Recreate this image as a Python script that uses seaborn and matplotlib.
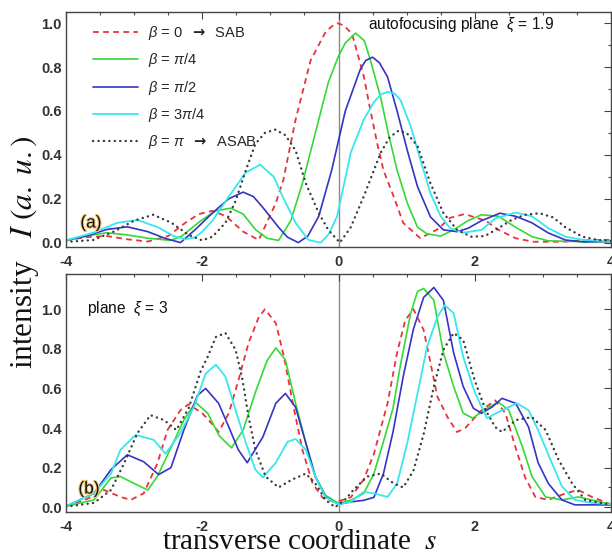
import matplotlib
matplotlib.use("Agg")
import matplotlib.pyplot as plt
import matplotlib.patheffects as pe
from matplotlib.ticker import MultipleLocator, FormatStrFormatter
import seaborn as sns

# ---------------- data: top panel (autofocusing plane xi = 1.9) ----------------
s_top_b0 = [-4.0, -3.7, -3.4, -3.1, -2.8, -2.5, -2.25, -2.05, -1.85, -1.65, -1.4, -1.17, -0.92, -0.81, -0.63,
            -0.41, -0.19, -0.1, -0.02, 0.08, 0.2, 0.37, 0.47, 0.57, 0.66, 0.81, 0.95, 1.2, 1.45, 1.64, 1.85,
            2.16, 2.35, 2.6, 2.85, 3.3, 3.7, 4.0]
I_top_b0 = [0.01, 0.025, 0.03, 0.015, 0.005, 0.03, 0.09, 0.13, 0.145, 0.12, 0.05, 0.012, 0.18, 0.285, 0.56,
            0.83, 0.96, 0.985, 1.0, 0.99, 0.95, 0.76, 0.6, 0.45, 0.33, 0.21, 0.09, 0.02, 0.06, 0.113, 0.13,
            0.10, 0.058, 0.02, 0.004, 0.004, 0.012, 0.012]

s_top_b1 = [-4.0, -3.7, -3.4, -3.1, -2.8, -2.46, -2.3, -2.02, -1.8, -1.58, -1.4, -1.22, -1.05, -0.88, -0.7,
            -0.53, -0.29, -0.15, 0.0, 0.1, 0.25, 0.38, 0.47, 0.62, 0.73, 0.86, 1.01, 1.16, 1.3, 1.5, 1.7, 1.9,
            2.1, 2.35, 2.6, 2.84, 3.08, 3.5, 4.0]
I_top_b1 = [0.01, 0.03, 0.045, 0.035, 0.02, 0.01, 0.03, 0.1, 0.145, 0.157, 0.13, 0.06, 0.02, 0.01, 0.1,
            0.27, 0.56, 0.73, 0.85, 0.91, 0.955, 0.92, 0.83, 0.66, 0.5, 0.33, 0.18, 0.07, 0.04, 0.03, 0.06, 0.1,
            0.127, 0.12, 0.07, 0.027, 0.008, 0.005, 0.005]

s_top_b2 = [-4.0, -3.7, -3.4, -3.1, -2.8, -2.55, -2.32, -2.1, -1.85, -1.61, -1.4, -1.25, -1.11, -0.88, -0.75,
            -0.59, -0.45, -0.29, -0.1, 0.1, 0.32, 0.4, 0.5, 0.6, 0.72, 0.86, 1.01, 1.16, 1.35, 1.54, 1.74, 1.9,
            2.1, 2.37, 2.6, 2.84, 3.08, 3.33, 3.6, 4.0]
I_top_b2 = [0.01, 0.03, 0.06, 0.072, 0.05, 0.02, 0.0, 0.06, 0.135, 0.2, 0.23, 0.21, 0.16, 0.07, 0.025,
            0.0, 0.03, 0.12, 0.33, 0.6, 0.79, 0.83, 0.845, 0.82, 0.755, 0.6, 0.42, 0.255, 0.117, 0.058, 0.05, 0.065,
            0.1, 0.134, 0.12, 0.09, 0.044, 0.012, 0.003, 0.005]

s_top_b3 = [-4.0, -3.6, -3.25, -2.95, -2.65, -2.42, -2.25, -2.1, -2.0, -1.85, -1.61, -1.36, -1.15, -0.95, -0.82,
            -0.63, -0.44, -0.26, -0.14, -0.02, 0.18, 0.37, 0.52, 0.62, 0.72, 0.82, 0.91, 1.06, 1.2, 1.35, 1.5,
            1.64, 1.83, 2.1, 2.3, 2.6, 2.84, 3.08, 3.33, 3.6, 4.0]
I_top_b3 = [0.01, 0.045, 0.09, 0.103, 0.07, 0.03, 0.015, 0.025, 0.05, 0.1, 0.21, 0.32, 0.355, 0.3, 0.21,
            0.09, 0.012, 0.0, 0.04, 0.12, 0.41, 0.56, 0.64, 0.675, 0.687, 0.68, 0.65, 0.53, 0.38, 0.225, 0.12,
            0.065, 0.045, 0.058, 0.11, 0.137, 0.12, 0.066, 0.027, 0.012, 0.005]

s_top_b4 = [-4.0, -3.6, -3.3, -3.0, -2.72, -2.45, -2.2, -2.0, -1.85, -1.66, -1.51, -1.36, -1.22, -1.08, -0.93,
            -0.78, -0.63, -0.48, -0.29, -0.15, 0.02, 0.18, 0.37, 0.62, 0.75, 0.88, 1.0, 1.16, 1.35, 1.54, 1.74,
            1.95, 2.15, 2.35, 2.55, 2.74, 2.95, 3.15, 3.33, 3.58, 3.81, 4.0]
I_top_b4 = [0.003, 0.012, 0.05, 0.1, 0.127, 0.09, 0.035, 0.01, 0.027, 0.09, 0.19, 0.33, 0.45, 0.5, 0.515,
            0.49, 0.42, 0.27, 0.135, 0.058, 0.0, 0.07, 0.21, 0.41, 0.48, 0.51, 0.5, 0.44, 0.27, 0.135, 0.058,
            0.027, 0.03, 0.066, 0.105, 0.127, 0.134, 0.115, 0.07, 0.027, 0.012, 0.008]

# ---------------- data: bottom panel (plane xi = 3) ----------------
s_bot_b0 = [-4.0, -3.7, -3.44, -3.2, -3.05, -2.86, -2.66, -2.51, -2.32, -2.2, -2.0, -1.88, -1.76, -1.61, -1.47,
            -1.32, -1.17, -1.08, -0.92, -0.8, -0.67, -0.53, -0.38, -0.23, -0.05, 0.18, 0.37, 0.52, 0.72, 0.86,
            0.98, 1.1, 1.25, 1.35, 1.45, 1.6, 1.74, 1.86, 2.1, 2.3, 2.45, 2.6, 2.74, 2.89, 3.08, 3.33, 3.52,
            3.72, 4.0]
I_bot_b0 = [0.005, 0.04, 0.087, 0.052, 0.037, 0.07, 0.22, 0.39, 0.49, 0.52, 0.475, 0.43, 0.38, 0.475, 0.64,
            0.83, 0.96, 1.0, 0.93, 0.76, 0.525, 0.29, 0.12, 0.047, 0.025, 0.05, 0.14, 0.27, 0.525, 0.78,
            0.945, 1.0, 0.895, 0.73, 0.56, 0.455, 0.38, 0.4, 0.49, 0.54, 0.475, 0.3, 0.15, 0.052, 0.037, 0.07,
            0.087, 0.052, 0.015]

s_bot_b1 = [-4.0, -3.59, -3.34, -3.2, -3.0, -2.8, -2.66, -2.46, -2.27, -2.1, -1.92, -1.75, -1.57, -1.4, -1.2,
            -1.05, -0.92, -0.78, -0.63, -0.48, -0.34, -0.19, 0.0, 0.18, 0.37, 0.52, 0.65, 0.8, 0.91, 1.06, 1.16,
            1.25, 1.4, 1.54, 1.69, 1.83, 1.97, 2.2, 2.35, 2.5, 2.7, 2.84, 3.04, 3.28, 3.52, 4.0]
I_bot_b1 = [0.005, 0.037, 0.148, 0.155, 0.12, 0.087, 0.155, 0.3, 0.44, 0.53, 0.475, 0.36, 0.3, 0.39, 0.6,
            0.74, 0.805, 0.745, 0.525, 0.325, 0.155, 0.06, 0.02, 0.035, 0.07, 0.17, 0.32, 0.5, 0.72, 0.98, 1.09,
            1.105, 1.045, 0.78, 0.61, 0.475, 0.45, 0.505, 0.53, 0.49, 0.305, 0.155, 0.052, 0.037, 0.052, 0.015]

s_bot_b2 = [-4.0, -3.59, -3.34, -3.1, -2.86, -2.64, -2.46, -2.27, -2.07, -1.95, -1.76, -1.61, -1.47, -1.34,
            -1.11, -0.92, -0.78, -0.63, -0.48, -0.34, -0.19, 0.0, 0.18, 0.37, 0.52, 0.66, 0.8, 0.95, 1.1, 1.25,
            1.4, 1.54, 1.69, 1.83, 1.98, 2.1, 2.25, 2.4, 2.6, 2.79, 2.93, 3.08, 3.28, 3.47, 4.0]
I_bot_b2 = [0.005, 0.07, 0.19, 0.265, 0.23, 0.165, 0.2, 0.39, 0.565, 0.6, 0.525, 0.405, 0.29, 0.225,
            0.355, 0.525, 0.575, 0.505, 0.325, 0.155, 0.052, 0.015, 0.027, 0.035, 0.05, 0.17, 0.38, 0.66, 0.9, 1.06,
            1.11, 1.045, 0.78, 0.61, 0.5, 0.475, 0.505, 0.55, 0.525, 0.405, 0.225, 0.12, 0.037, 0.012, 0.012]

s_bot_b3 = [-4.0, -3.59, -3.34, -3.2, -2.98, -2.71, -2.54, -2.32, -2.12, -1.95, -1.8, -1.66, -1.51, -1.36, -1.22,
            -1.11, -0.92, -0.75, -0.63, -0.48, -0.34, -0.19, 0.0, 0.18, 0.37, 0.52, 0.72, 0.86, 1.01, 1.16, 1.3,
            1.45, 1.56, 1.69, 1.83, 2.0, 2.18, 2.4, 2.62, 2.79, 2.93, 3.13, 3.28, 3.47, 3.72, 4.0]
I_bot_b3 = [0.005, 0.07, 0.17, 0.29, 0.365, 0.34, 0.27, 0.375, 0.51, 0.675, 0.72, 0.66, 0.49, 0.325, 0.19,
            0.15, 0.225, 0.33, 0.345, 0.29, 0.155, 0.05, 0.015, 0.027, 0.078, 0.07, 0.052, 0.12, 0.325, 0.575, 0.81,
            0.96, 1.02, 0.98, 0.76, 0.58, 0.45, 0.49, 0.525, 0.49, 0.39, 0.225, 0.105, 0.037, 0.022, 0.015]

s_bot_b4 = [-4.0, -3.59, -3.34, -3.15, -2.95, -2.76, -2.56, -2.38, -2.2, -2.02, -1.92, -1.8, -1.66, -1.51, -1.41,
            -1.32, -1.22, -1.07, -0.88, -0.68, -0.48, -0.34, -0.19, -0.05, 0.1, 0.22, 0.42, 0.62, 0.81, 0.95, 1.1,
            1.25, 1.4, 1.54, 1.69, 1.83, 2.0, 2.16, 2.3, 2.4, 2.6, 2.84, 3.04, 3.23, 3.43, 3.62, 4.0]
I_bot_b4 = [0.003, 0.022, 0.087, 0.22, 0.375, 0.465, 0.44, 0.39, 0.5, 0.69, 0.76, 0.86, 0.88, 0.795, 0.645,
            0.455, 0.29, 0.155, 0.1, 0.14, 0.17, 0.12, 0.037, 0.0, 0.04, 0.087, 0.155, 0.17, 0.12, 0.1, 0.185,
            0.37, 0.61, 0.795, 0.88, 0.845, 0.64, 0.49, 0.405, 0.38, 0.44, 0.455, 0.39, 0.24, 0.12, 0.037, 0.012]

legend_labels = [r"$\beta$ = 0  $\mathbf{\rightarrow}$  SAB", r"$\beta$ = $\pi$/4", r"$\beta$ = $\pi$/2",
                 r"$\beta$ = 3$\pi$/4", r"$\beta$ = $\pi$  $\mathbf{\rightarrow}$  ASAB"]
x_ticks = [-4, -2, 0, 2, 4]
y_ticks = [0.0, 0.2, 0.4, 0.6, 0.8, 1.0]

# ---------------- styling ----------------
sns.set_theme(style="white")
plt.rcParams['font.family'] = ['Liberation Sans', 'DejaVu Sans']
plt.rcParams['mathtext.fontset'] = 'custom'
plt.rcParams['mathtext.rm'] = 'Liberation Sans'
plt.rcParams['mathtext.it'] = 'Liberation Sans:italic'
plt.rcParams['mathtext.bf'] = 'DejaVu Sans:bold'
plt.rcParams['mathtext.fallback'] = 'stixsans'
plt.rcParams['axes.unicode_minus'] = False

styles = [
    dict(color='#e8323a', linestyle=(0, (3.2, 2.4)), lw=1.3),
    dict(color='#35d935', linestyle='-', lw=1.2),
    dict(color='#3434c4', linestyle='-', lw=1.2),
    dict(color='#38e6ee', linestyle='-', lw=1.3),
    dict(color='#3a3a3a', linestyle=(0, (0.1, 2.2)), lw=1.7, dash_capstyle='round'),
]

W, H = 612, 554
fig = plt.figure(figsize=(W / 100, H / 100), dpi=100)
ax1 = fig.add_axes([66 / W, 1 - 247 / H, 545 / W, 235 / H])
ax2 = fig.add_axes([66 / W, 1 - 512 / H, 545 / W, 238 / H])

top = [(s_top_b0, I_top_b0), (s_top_b1, I_top_b1), (s_top_b2, I_top_b2), (s_top_b3, I_top_b3), (s_top_b4, I_top_b4)]
bot = [(s_bot_b0, I_bot_b0), (s_bot_b1, I_bot_b1), (s_bot_b2, I_bot_b2), (s_bot_b3, I_bot_b3), (s_bot_b4, I_bot_b4)]

for ax in (ax1, ax2):
    ax.axvline(0, color='#8a8a8a', lw=1.0, zorder=0.5)

for (s, I), st, lab in zip(top, styles, legend_labels):
    sns.lineplot(x=s, y=I, ax=ax1, sort=False, estimator=None, label=lab, **st)
for (s, I), st in zip(bot, styles):
    sns.lineplot(x=s, y=I, ax=ax2, sort=False, estimator=None, legend=False, **st)

ax1.set_ylim(-0.02, 1.051)
ax2.set_ylim(-0.024, 1.178)
for ax in (ax1, ax2):
    ax.set_xlim(-4, 4)
    ax.set_xticks(x_ticks)
    ax.set_yticks(y_ticks)
    ax.xaxis.set_minor_locator(MultipleLocator(0.5))
    ax.yaxis.set_minor_locator(MultipleLocator(0.1))
    ax.yaxis.set_major_formatter(FormatStrFormatter('%.1f'))
    ax.tick_params(which='both', direction='in', top=True, right=True, color='#444444', width=0.8)
    ax.tick_params(which='major', length=5, labelsize=10.5, labelcolor='#333333')
    ax.tick_params(which='minor', length=2.5)
    ax.tick_params(axis='x', pad=6)
    ax.tick_params(axis='y', pad=3)
    for lbl in ax.get_xticklabels() + ax.get_yticklabels():
        lbl.set_fontweight('bold')
    for sp in ax.spines.values():
        sp.set_color('#444444')
        sp.set_linewidth(1.0)
    ax.set_xlabel('')
    ax.set_ylabel('')

leg = ax1.legend(loc='upper left', bbox_to_anchor=(27 / 545, 1 - 12 / 235), frameon=False,
                 fontsize=10.5, handlelength=3.1, handletextpad=0.7, labelspacing=0.64,
                 borderaxespad=0, borderpad=0)

def ftext(x, y, s, **kw):
    return fig.text(x / W, 1 - y / H, s, **kw)

ftext(368, 25, r"autofocusing plane  $\xi$ = 1.9", fontsize=11.2, ha='left', va='center', color='#111111')
ftext(87, 309, r"plane  $\xi$ = 3", fontsize=11.2, ha='left', va='center', color='#111111')
halo = [pe.withStroke(linewidth=1.6, foreground='#f3c77a')]
ftext(91, 223, "(a)", fontsize=12.5, ha='center', va='center', color='#111111', path_effects=halo)
ftext(89, 489, "(b)", fontsize=12.5, ha='center', va='center', color='#111111', path_effects=halo)

ftext(25, 252, r"intensity   $I\ (a.\ u.)$", rotation=90, fontsize=22.5, ha='center', va='center',
      family='Liberation Serif', math_fontfamily='stix', color='#111111')
ftext(300, 549, r"transverse coordinate  $s$", fontsize=21, ha='center', va='baseline',
      family='Liberation Serif', math_fontfamily='stix', color='#111111')

fig.savefig('out.png', dpi=100)
